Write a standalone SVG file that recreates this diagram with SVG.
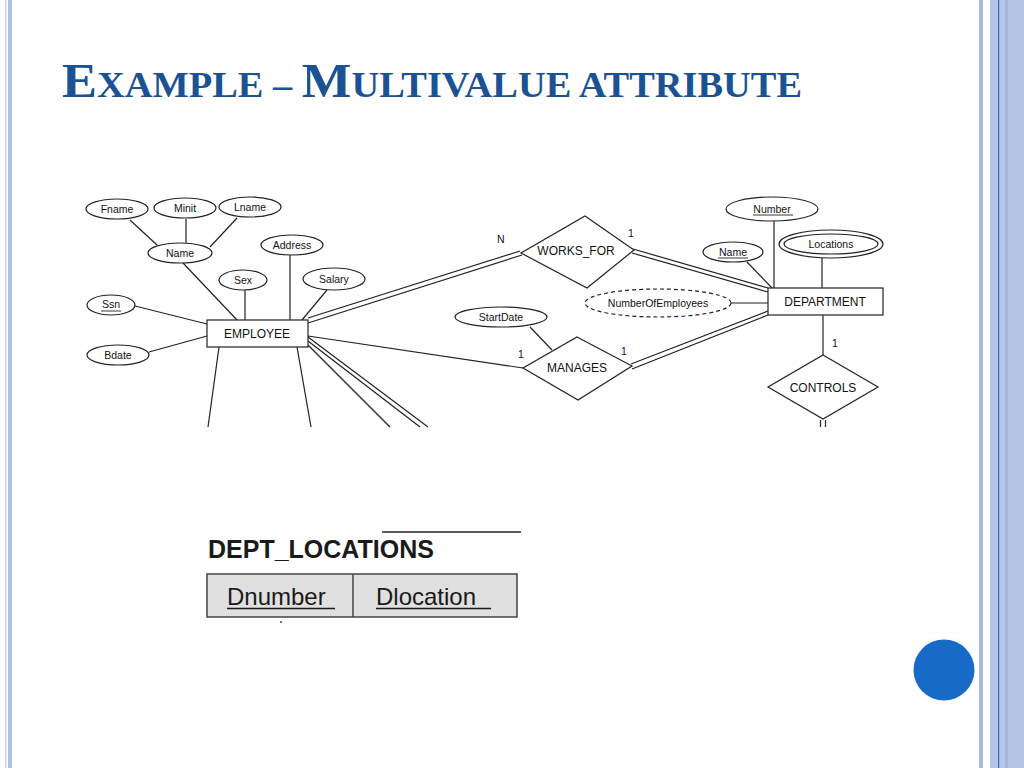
<svg xmlns="http://www.w3.org/2000/svg" width="1024" height="768" viewBox="0 0 1024 768">
<style>
.ln{stroke:#222;stroke-width:1.2;fill:none}
.sh{stroke:#222;stroke-width:1.2;fill:#fff}
.at{font-family:"Liberation Sans",Arial,sans-serif;font-size:10.5px;fill:#111;text-anchor:middle}
.en{font-family:"Liberation Sans",Arial,sans-serif;font-size:12px;fill:#111;text-anchor:middle}
.ul{stroke:#222;stroke-width:0.9}
</style>
<rect x="0" y="0" width="1024" height="768" fill="#fff"/>
<g id="border">
<rect x="5" y="0" width="1.5" height="768" fill="#cfd6ec"/>
<rect x="8" y="0" width="4" height="768" fill="#b0c2e3"/>
<rect x="979" y="0" width="4" height="768" fill="#a9b9df"/>
<rect x="990" y="0" width="34" height="768" fill="#b5c5e7"/>
<rect x="1005" y="0" width="3" height="768" fill="#a6b6dd"/>
<rect x="998" y="0" width="1.2" height="768" fill="#3d6cb0"/>
</g>
<g id="title">
<text x="62" y="97" font-family="Liberation Serif,'Times New Roman',serif" font-weight="bold" fill="#1b5294" textLength="740" lengthAdjust="spacingAndGlyphs"><tspan font-size="48">E</tspan><tspan font-size="35">XAMPLE – </tspan><tspan font-size="48">M</tspan><tspan font-size="35">ULTIVALUE ATTRIBUTE</tspan></text>
</g>
<g id="connectors">
<line class="ln" x1="130" y1="220" x2="157" y2="245"/>
<line class="ln" x1="186" y1="219" x2="186" y2="243"/>
<line class="ln" x1="237" y1="218" x2="210" y2="247"/>
<line class="ln" x1="183" y1="263" x2="237" y2="320"/>
<line class="ln" x1="245" y1="290" x2="245" y2="320"/>
<line class="ln" x1="290" y1="255" x2="290" y2="320"/>
<line class="ln" x1="327" y1="290" x2="302" y2="320"/>
<line class="ln" x1="135" y1="306" x2="207" y2="324"/>
<line class="ln" x1="149" y1="352" x2="207" y2="336"/>
<line class="ln" x1="219" y1="347" x2="208" y2="427"/>
<line class="ln" x1="297" y1="347" x2="311" y2="427"/>
<line class="ln" x1="308" y1="318" x2="520" y2="251"/>
<line class="ln" x1="308" y1="323" x2="522" y2="255"/>
<line class="ln" x1="633" y1="249" x2="768" y2="288"/>
<line class="ln" x1="632" y1="253" x2="768" y2="292"/>
<line class="ln" x1="308" y1="336" x2="523" y2="368"/>
<line class="ln" x1="768" y1="311" x2="631" y2="364"/>
<line class="ln" x1="768" y1="315" x2="632" y2="369"/>
<line class="ln" x1="530" y1="327" x2="552" y2="350"/>
<line class="ln" x1="308" y1="337" x2="428" y2="427"/>
<line class="ln" x1="308" y1="341" x2="420" y2="427"/>
<line class="ln" x1="308" y1="345" x2="390" y2="427"/>
<line class="ln" x1="774" y1="221" x2="774" y2="288"/>
<line class="ln" x1="747" y1="262" x2="772" y2="288"/>
<line class="ln" x1="822" y1="258" x2="822" y2="288"/>
<line class="ln" x1="731" y1="303" x2="768" y2="303"/>
<line class="ln" x1="823" y1="315" x2="823" y2="355"/>
<line class="ln" x1="820.5" y1="420" x2="820.5" y2="427"/>
<line class="ln" x1="825.5" y1="420" x2="825.5" y2="427"/>
</g>
<g id="labels" font-family="Liberation Sans,Arial,sans-serif" font-size="10.5" fill="#111">
<text x="497" y="243">N</text>
<text x="628" y="237">1</text>
<text x="518" y="358">1</text>
<text x="621" y="355">1</text>
<text x="832" y="347">1</text>
</g>
<g id="fname"><ellipse class="sh" cx="117" cy="209" rx="31" ry="10"/><text class="at" x="117" y="213">Fname</text></g>
<g id="minit"><ellipse class="sh" cx="185" cy="208" rx="31" ry="10"/><text class="at" x="185" y="212">Minit</text></g>
<g id="lname"><ellipse class="sh" cx="250" cy="207" rx="31" ry="10"/><text class="at" x="250" y="211">Lname</text></g>
<g id="name"><ellipse class="sh" cx="180" cy="253" rx="32" ry="10"/><text class="at" x="180" y="257">Name</text></g>
<g id="address"><ellipse class="sh" cx="292" cy="245" rx="31" ry="10"/><text class="at" x="292" y="249">Address</text></g>
<g id="sex"><ellipse class="sh" cx="243" cy="280" rx="24" ry="10"/><text class="at" x="243" y="284">Sex</text></g>
<g id="salary"><ellipse class="sh" cx="334" cy="279" rx="31" ry="11"/><text class="at" x="334" y="283">Salary</text></g>
<g id="ssn"><ellipse class="sh" cx="111" cy="305" rx="24" ry="10"/><text class="at" x="111" y="308">Ssn</text><line class="ul" x1="101" y1="311" x2="121" y2="311"/></g>
<g id="bdate"><ellipse class="sh" cx="118" cy="355" rx="31" ry="10"/><text class="at" x="118" y="359">Bdate</text></g>
<g id="employee"><rect class="sh" x="207" y="320" width="101" height="27"/><text class="en" x="257" y="338">EMPLOYEE</text></g>
<g id="works_for"><polygon class="sh" points="585,216 634,250 587,288 521,253"/><text class="en" x="576" y="255">WORKS_FOR</text></g>
<g id="manages"><polygon class="sh" points="577,337 632,366 578,400 523,368"/><text class="en" x="577" y="372">MANAGES</text></g>
<g id="startdate"><ellipse class="sh" cx="501" cy="317" rx="46" ry="10"/><text class="at" x="501" y="321">StartDate</text></g>
<g id="numberofemployees"><ellipse class="sh" cx="658" cy="303" rx="73" ry="14" stroke-dasharray="4,3"/><text class="at" x="658" y="307">NumberOfEmployees</text></g>
<g id="department"><rect class="sh" x="768" y="288" width="115" height="27"/><text class="en" x="825" y="306">DEPARTMENT</text></g>
<g id="number"><ellipse class="sh" cx="772" cy="209" rx="46" ry="12"/><text class="at" x="772" y="213">Number</text><line class="ul" x1="753" y1="215" x2="793" y2="215"/></g>
<g id="dname"><ellipse class="sh" cx="733" cy="252" rx="30" ry="10"/><text class="at" x="733" y="256">Name</text><line class="ul" x1="718" y1="258" x2="748" y2="258"/></g>
<g id="locations"><ellipse class="sh" cx="831" cy="244" rx="52" ry="14"/><ellipse class="sh" cx="831" cy="244" rx="47" ry="10"/><text class="at" x="831" y="248">Locations</text></g>
<g id="controls"><polygon class="sh" points="823,355 878,387 823,419 768,387"/><text class="en" x="823" y="392">CONTROLS</text></g>
<g id="dept_locations">
<line x1="382" y1="532" x2="521" y2="532" stroke="#222" stroke-width="1.5"/>
<text x="208" y="558" font-family="Liberation Sans,Arial,sans-serif" font-weight="bold" font-size="25" fill="#1a1a1a">DEPT_LOCATIONS</text>
<rect x="207" y="574" width="310" height="43" fill="#e0e0e0" stroke="#444" stroke-width="1.5"/>
<line x1="353" y1="574" x2="353" y2="617" stroke="#444" stroke-width="1.5"/>
<text x="227" y="605" font-family="Liberation Sans,Arial,sans-serif" font-size="24" fill="#1a1a1a">Dnumber</text>
<line x1="227" y1="608.5" x2="335" y2="608.5" stroke="#1a1a1a" stroke-width="1.3"/>
<text x="376" y="605" font-family="Liberation Sans,Arial,sans-serif" font-size="24" fill="#1a1a1a">Dlocation</text>
<line x1="376" y1="608.5" x2="491" y2="608.5" stroke="#1a1a1a" stroke-width="1.3"/>
<circle cx="281" cy="622" r="0.9" fill="#333"/>
</g>
<g id="dot"><circle cx="944" cy="670" r="30.5" fill="#176bc6"/></g>
</svg>
